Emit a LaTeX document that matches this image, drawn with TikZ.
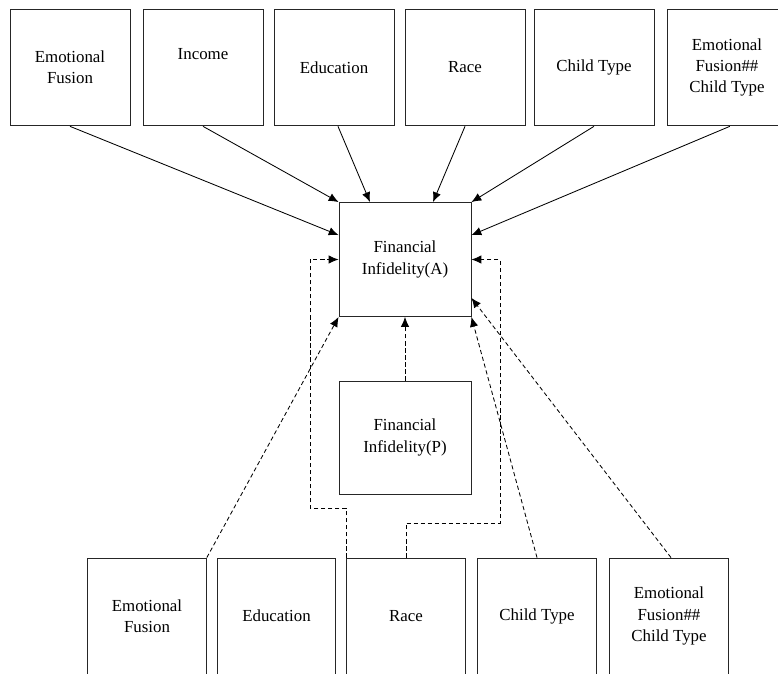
\documentclass[tikz,border=0pt]{standalone}
\usepackage{fontspec}
\setmainfont{Liberation Serif}
\usetikzlibrary{arrows.meta}

\begin{document}
\begin{tikzpicture}[x=0.025cm, y=-0.025cm,
		box/.style={draw=black!85, line width=0.6pt, minimum width=3cm, minimum height=2.92cm,
			align=center, inner sep=2pt, font=\fontsize{12}{15}\selectfont},
		wide/.style={box, minimum width=3.3cm, minimum height=2.85cm},
		path/.style={line width=0.6pt, -{Latex[length=7pt,width=6pt]}},
		dpath/.style={path, dash pattern=on 3pt off 2pt}]
		\useasboundingbox (0,0) rectangle (778,673);
		% predictors of the actor
		\foreach \cx/\nm/\txt in {70/topEF/{Emotional\\Fusion}, 203/topInc/{Income\\\strut},
			334/topEdu/{Education}, 465/topRace/{Race}, 594/topChild/{Child Type},
			727/topInt/{Emotional\\Fusion\#\#\\Child Type}}
		{
			\node[box] (\nm) at (\cx,67.5) {\txt};
		}
		% actor and partner
		\node[wide] (finA) at (405,259.5) {Financial\\Infidelity(A)};
		\node[wide, minimum height=2.82cm] (finP) at (405,437.5) {Financial\\Infidelity(P)};
		% predictors of the partner
		\foreach \cx/\nm/\txt in {147/botEF/{Emotional\\Fusion}, 276.5/botEdu/{Education},
			406/botRace/{Race}, 537/botChild/{Child Type},
			669/botInt/{Emotional\\Fusion\#\#\\Child Type}}
		{
			\node[box, minimum width=2.97cm, minimum height=2.9cm] (\nm) at (\cx,616) {\txt};
		}
		% solid arrows
		\draw[path] (topEF.south) -- ([yshift=6.1mm]finA.west);
		\draw[path] (topInc.south) -- (finA.north west);
		\draw[path] ([xshift=1mm]topEdu.south) -- ([xshift=-8.75mm]finA.north);
		\draw[path] (topRace.south) -- ([xshift=7mm]finA.north);
		\draw[path] (topChild.south) -- (finA.north east);
		\draw[path] ([xshift=0.7mm]topInt.south) -- ([yshift=6.1mm]finA.east);
		% dashed arrows
		\coordinate (lbend) at (310,508);
		\coordinate (rbend) at (500,523);
		\draw[dpath] (finP.north) -- (finA.south);
		\draw[dpath] (botEF.north east) -- (finA.south west);
		\draw[dpath] (botRace.north west) |- (lbend) |- (finA.west);
		\draw[dpath] (botRace.north) |- (rbend) |- (finA.east);
		\draw[dpath] (botChild.north) -- (finA.south east);
		\draw[dpath] ([xshift=0.5mm]botInt.north) -- ([yshift=-9.6mm]finA.east);
	\end{tikzpicture}
\end{document}
